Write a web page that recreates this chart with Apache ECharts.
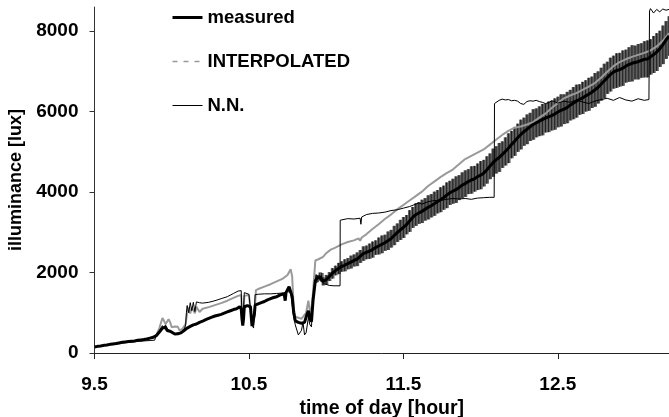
<!DOCTYPE html>
<html>
<head>
<meta charset="utf-8">
<script src="https://cdn.jsdelivr.net/npm/echarts@6.0.0/dist/echarts.min.js"></script>
<style>html,body{margin:0;padding:0;background:#fff;}#c{width:669px;height:417px;}</style>
</head>
<body>
<div id="c"></div>
<script>
// ---- data ----
const xTicks = [9.5, 10.5, 11.5, 12.5];
const yTicks = [0, 2000, 4000, 6000, 8000];
const seriesNames = ['measured', 'INTERPOLATED', 'N.N.'];

const tMeasured = [
  9.50,9.52,9.54,9.56,9.58,9.60,9.62,9.64,9.66,9.68,
  9.70,9.72,9.74,9.76,9.78,9.80,9.82,9.84,9.86,9.88,
  9.90,9.92,9.94,9.95,9.96,9.97,9.98,9.99,10.00,10.02,
  10.04,10.06,10.08,10.10,10.12,10.14,10.16,10.18,10.20,10.22,
  10.24,10.26,10.28,10.30,10.32,10.34,10.36,10.38,10.40,10.42,
  10.44,10.45,10.455,10.46,10.465,10.47,10.48,10.49,10.50,10.51,
  10.515,10.52,10.53,10.535,10.54,10.56,10.58,10.60,10.62,10.64,
  10.66,10.68,10.70,10.72,10.73,10.735,10.74,10.76,10.77,10.78,
  10.79,10.80,10.82,10.84,10.86,10.875,10.885,10.895,10.905,10.915,
  10.93,10.94,10.96,10.97,10.98,11.00,11.02,11.04,11.06,11.08,
  11.10,11.12,11.14,11.16,11.18,11.20,11.22,11.24,11.26,11.28,
  11.30,11.32,11.34,11.36,11.38,11.40,11.42,11.44,11.46,11.48,
  11.50,11.52,11.54,11.56,11.58,11.60,11.62,11.64,11.66,11.68,
  11.70,11.72,11.74,11.76,11.78,11.80,11.82,11.84,11.86,11.88,
  11.90,11.92,11.94,11.96,11.98,12.00,12.02,12.04,12.06,12.08,
  12.10,12.12,12.14,12.16,12.18,12.20,12.22,12.24,12.26,12.28,
  12.30,12.32,12.34,12.36,12.38,12.40,12.42,12.44,12.46,12.48,
  12.50,12.52,12.54,12.56,12.58,12.60,12.62,12.64,12.66,12.68,
  12.70,12.72,12.74,12.76,12.78,12.80,12.82,12.84,12.86,12.88,
  12.90,12.92,12.94,12.96,12.98,13.00,13.02,13.04,13.06,13.08,
  13.10,13.12,13.14,13.16,13.18,13.20,13.22
];
const measured = [
  150,165,175,190,200,215,225,235,250,265,
  275,285,295,300,315,325,335,350,370,390,
  430,520,620,600,640,560,590,540,500,470,
  480,500,560,620,660,700,720,760,790,830,
  860,890,920,940,960,990,1020,1050,1080,1100,
  1150,1100,850,680,850,1150,1170,1180,1160,1150,
  900,670,650,950,1190,1220,1250,1280,1320,1350,
  1380,1400,1440,1470,1420,1300,1500,1650,1620,1400,
  1000,800,760,740,760,950,1050,850,780,1300,
  1800,1850,1900,1880,1780,1820,1900,1980,2050,2100,
  2150,2180,2220,2260,2300,2330,2400,2470,2500,2530,
  2570,2620,2660,2700,2740,2790,2840,2920,2990,3060,
  3120,3190,3280,3370,3440,3480,3520,3570,3620,3660,
  3710,3760,3810,3860,3920,3980,4020,4060,4110,4170,
  4210,4260,4300,4330,4380,4420,4470,4550,4640,4730,
  4800,4860,4930,5010,5090,5180,5260,5350,5430,5500,
  5560,5620,5680,5720,5760,5800,5840,5870,5900,5940,
  5990,6030,6060,6100,6160,6210,6260,6300,6340,6390,
  6430,6480,6540,6600,6680,6760,6840,6920,6980,7020,
  7040,7080,7130,7170,7200,7220,7240,7270,7300,7310,
  7360,7420,7480,7560,7660,7780,7880
];
// error half-width of the measured values; applies to the last points of tMeasured (from 10.93 h on)
const measuredErr = [
  60,90,100,110,100,120,110,130,120,140,
  130,150,140,160,150,170,160,180,170,190,
  200,180,210,220,200,230,220,240,230,250,
  260,240,270,260,280,270,290,280,300,290,
  300,290,310,300,320,300,310,330,310,320,
  330,310,340,320,330,350,330,340,320,350,
  340,360,330,350,370,340,360,350,370,350,
  370,350,380,360,370,390,360,380,370,390,
  380,400,370,390,380,400,410,380,400,390,
  410,390,420,400,410,430,400,420,410,430,
  420,440,410,430,450,420,440,430,450,460,
  440,460,470,450,480,470,490
];

const tInterp = [
  9.50,9.60,9.70,9.80,9.88,9.90,9.92,9.94,9.95,9.96,
  9.97,9.98,9.99,10.00,10.01,10.02,10.03,10.04,10.05,10.07,
  10.09,10.10,10.11,10.12,10.13,10.14,10.15,10.16,10.17,10.18,
  10.20,10.24,10.28,10.32,10.36,10.40,10.43,10.45,10.455,10.46,
  10.465,10.47,10.50,10.51,10.52,10.53,10.54,10.545,10.56,10.60,
  10.64,10.68,10.72,10.75,10.77,10.775,10.78,10.79,10.80,10.84,
  10.87,10.885,10.90,10.915,10.93,10.95,10.98,11.00,11.03,11.06,
  11.10,11.14,11.18,11.21,11.22,11.23,11.26,11.30,11.34,11.38,
  11.42,11.46,11.50,11.54,11.58,11.62,11.66,11.70,11.74,11.78,
  11.82,11.86,11.90,11.94,11.98,12.02,12.06,12.10,12.14,12.18,
  12.22,12.26,12.30,12.34,12.38,12.42,12.46,12.50,12.54,12.58,
  12.62,12.66,12.70,12.74,12.78,12.82,12.86,12.90,12.94,12.98,
  13.02,13.06,13.10,13.14,13.18,13.22
];
const interpolated = [
  150,215,275,325,390,440,620,870,800,720,
  780,840,760,640,600,660,700,650,560,600,
  720,1000,1130,980,1140,1180,990,1150,1190,1020,
  1100,1140,1190,1240,1300,1370,1420,1440,900,700,
  950,1420,1440,1420,760,700,1200,1560,1590,1650,
  1710,1780,1850,1940,2080,2100,1900,1100,900,850,
  1000,1300,900,1500,2300,2330,2390,2480,2570,2620,
  2700,2760,2800,2850,2790,2870,2950,3080,3200,3330,
  3440,3570,3680,3790,3900,4010,4150,4260,4370,4470,
  4560,4690,4820,4900,4980,5060,5180,5300,5420,5520,
  5600,5630,5680,5740,5850,5950,6090,6210,6330,6400,
  6460,6540,6620,6710,6840,6990,7130,7230,7300,7360,
  7410,7460,7520,7620,7760,7950
];

const tNN = [
  9.50,9.56,9.62,9.68,9.74,9.78,9.82,9.86,9.89,9.90,
  9.92,9.94,9.95,9.96,9.97,9.98,10.00,10.02,10.04,10.06,
  10.08,10.09,10.095,10.10,10.11,10.12,10.13,10.14,10.15,10.16,
  10.18,10.20,10.24,10.28,10.32,10.36,10.40,10.43,10.45,10.455,
  10.46,10.465,10.47,10.50,10.51,10.52,10.53,10.54,10.56,10.60,
  10.64,10.68,10.72,10.75,10.77,10.78,10.79,10.80,10.82,10.84,
  10.85,10.86,10.87,10.885,10.895,10.905,10.915,10.935,10.95,10.97,
  10.99,11.00,11.02,11.05,11.09,11.091,11.10,11.14,11.18,11.22,
  11.225,11.23,11.26,11.30,11.34,11.38,11.42,11.46,11.50,11.54,
  11.58,11.60,11.62,11.66,11.70,11.74,11.78,11.82,11.86,11.90,
  11.94,11.98,12.02,12.06,12.088,12.09,12.10,12.12,12.14,12.16,
  12.18,12.20,12.22,12.24,12.26,12.28,12.30,12.32,12.34,12.36,
  12.38,12.40,12.42,12.44,12.46,12.48,12.50,12.54,12.58,12.62,
  12.66,12.70,12.74,12.78,12.82,12.86,12.90,12.94,12.98,13.02,
  13.06,13.09,13.094,13.10,13.12,13.14,13.16,13.18,13.20,13.22
];
const nn = [
  150,180,215,250,270,290,300,310,320,450,
  560,680,620,700,600,560,520,480,500,520,
  560,700,1000,1180,1000,1250,1050,1260,1030,1270,
  1250,1240,1260,1300,1350,1400,1480,1540,1550,900,
  720,1100,1500,1460,1440,700,620,1450,1460,1470,
  1470,1480,1490,1530,1500,1200,900,700,450,560,
  760,450,500,880,700,650,1400,1950,1880,1780,
  1720,1700,1680,1670,1670,3300,3320,3340,3330,3350,
  3200,3380,3440,3470,3480,3500,3540,3560,3600,3640,
  3700,3730,3700,3760,3790,3790,3820,3840,3830,3840,
  3820,3850,3860,3870,3870,6200,6240,6280,6310,6290,
  6300,6270,6280,6260,6200,6180,6250,6270,6260,6280,
  6250,6230,6200,6220,6270,6250,6210,6260,6230,6290,
  6240,6200,6260,6300,6330,6280,6350,6290,6260,6320,
  6280,6300,8500,8560,8450,8540,8480,8550,8520,8540
];

// ---- build series data ----
function zip(t, v) { return t.map((x, i) => [x, v[i]]); }
const bandOffset = tMeasured.length - measuredErr.length;
const bandData = measuredErr.map((e, i) => {
  const k = bandOffset + i;
  return [tMeasured[k], measured[k] - e, measured[k] + e];
});

const FONT = '"Liberation Sans", Arial, sans-serif';
const hiddenSymbol = { color: 'rgba(0,0,0,0)', borderColor: 'rgba(0,0,0,0)', borderWidth: 0, opacity: 0 };
const chart = echarts.init(document.getElementById('c'), null, { renderer: 'canvas' });
chart.setOption({
  animation: false,
  backgroundColor: '#fff',
  grid: { left: 94.5, right: 0, top: 7, bottom: 64, containLabel: false, outerBoundsMode: 'none' },
  legend: {
    orient: 'vertical',
    left: 166,
    top: 3,
    itemWidth: 30,
    itemHeight: 20,
    itemGap: 25,
    textStyle: { fontFamily: FONT, fontWeight: 'bold', fontSize: 18.5, color: '#000' },
    data: [
      { name: 'measured', itemStyle: hiddenSymbol, lineStyle: { width: 3, color: '#000' } },
      { name: 'INTERPOLATED', itemStyle: hiddenSymbol, lineStyle: { width: 1.5, color: '#999', type: [5, 6] } },
      { name: 'N.N.', itemStyle: hiddenSymbol, lineStyle: { width: 1, color: '#000' } }
    ]
  },
  xAxis: {
    type: 'value',
    min: 9.5,
    max: 13.22,
    name: 'time of day [hour]',
    nameLocation: 'middle',
    nameGap: 45,
    nameTextStyle: { fontFamily: FONT, fontWeight: 'bold', fontSize: 19.5, color: '#000' },
    axisLine: { onZero: false, lineStyle: { color: '#222', width: 1 } },
    axisTick: { customValues: xTicks, length: 6, lineStyle: { color: '#222' } },
    axisLabel: {
      customValues: xTicks,
      margin: 22,
      fontFamily: FONT, fontWeight: 'bold', fontSize: 19, color: '#000',
      formatter: v => v.toFixed(1)
    },
    splitLine: { show: false }
  },
  yAxis: {
    type: 'value',
    min: 0,
    max: 8600,
    name: 'illuminance [lux]',
    nameLocation: 'middle',
    nameGap: 66,
    nameTextStyle: { fontFamily: FONT, fontWeight: 'bold', fontSize: 18, color: '#000' },
    axisLine: { show: true, lineStyle: { color: '#333', width: 1 } },
    axisTick: { show: true, customValues: yTicks, length: 5, lineStyle: { color: '#333' } },
    axisLabel: {
      customValues: yTicks,
      margin: 16,
      fontFamily: FONT, fontWeight: 'bold', fontSize: 19, color: '#000',
      formatter: v => String(v)
    },
    splitLine: { show: false }
  },
  series: [
    {
      name: 'measured band',
      type: 'custom',
      silent: true,
      clip: true,
      z: 1,
      encode: { x: 0, y: [1, 2] },
      data: bandData,
      renderItem: function (params, api) {
        const t = api.value(0), lo = api.value(1), hi = api.value(2);
        const pHi = api.coord([t, hi]), pLo = api.coord([t, lo]);
        const w = api.size([0.02, 0])[0];
        return {
          type: 'group',
          children: [
            { type: 'rect', shape: { x: pHi[0] - w / 2, y: pHi[1], width: w + 0.6, height: pLo[1] - pHi[1] },
              style: { fill: '#5e5e5e' } },
            { type: 'line', shape: { x1: pHi[0], y1: pHi[1], x2: pLo[0], y2: pLo[1] },
              style: { stroke: '#1e1e1e', lineWidth: 1 } }
          ]
        };
      }
    },
    {
      name: 'INTERPOLATED',
      type: 'line',
      z: 2,
      symbol: 'none',
      data: zip(tInterp, interpolated),
      lineStyle: { color: '#9a9a9a', width: 2 },
      itemStyle: { color: '#9a9a9a' }
    },
    {
      name: 'measured',
      type: 'line',
      z: 3,
      symbol: 'none',
      data: zip(tMeasured, measured),
      lineStyle: { color: '#000', width: 3 },
      itemStyle: { color: '#000' }
    },
    {
      name: 'N.N.',
      type: 'line',
      z: 4,
      symbol: 'none',
      data: zip(tNN, nn),
      lineStyle: { color: '#000', width: 1 },
      itemStyle: { color: '#000' }
    }
  ]
});
</script>
</body>
</html>
